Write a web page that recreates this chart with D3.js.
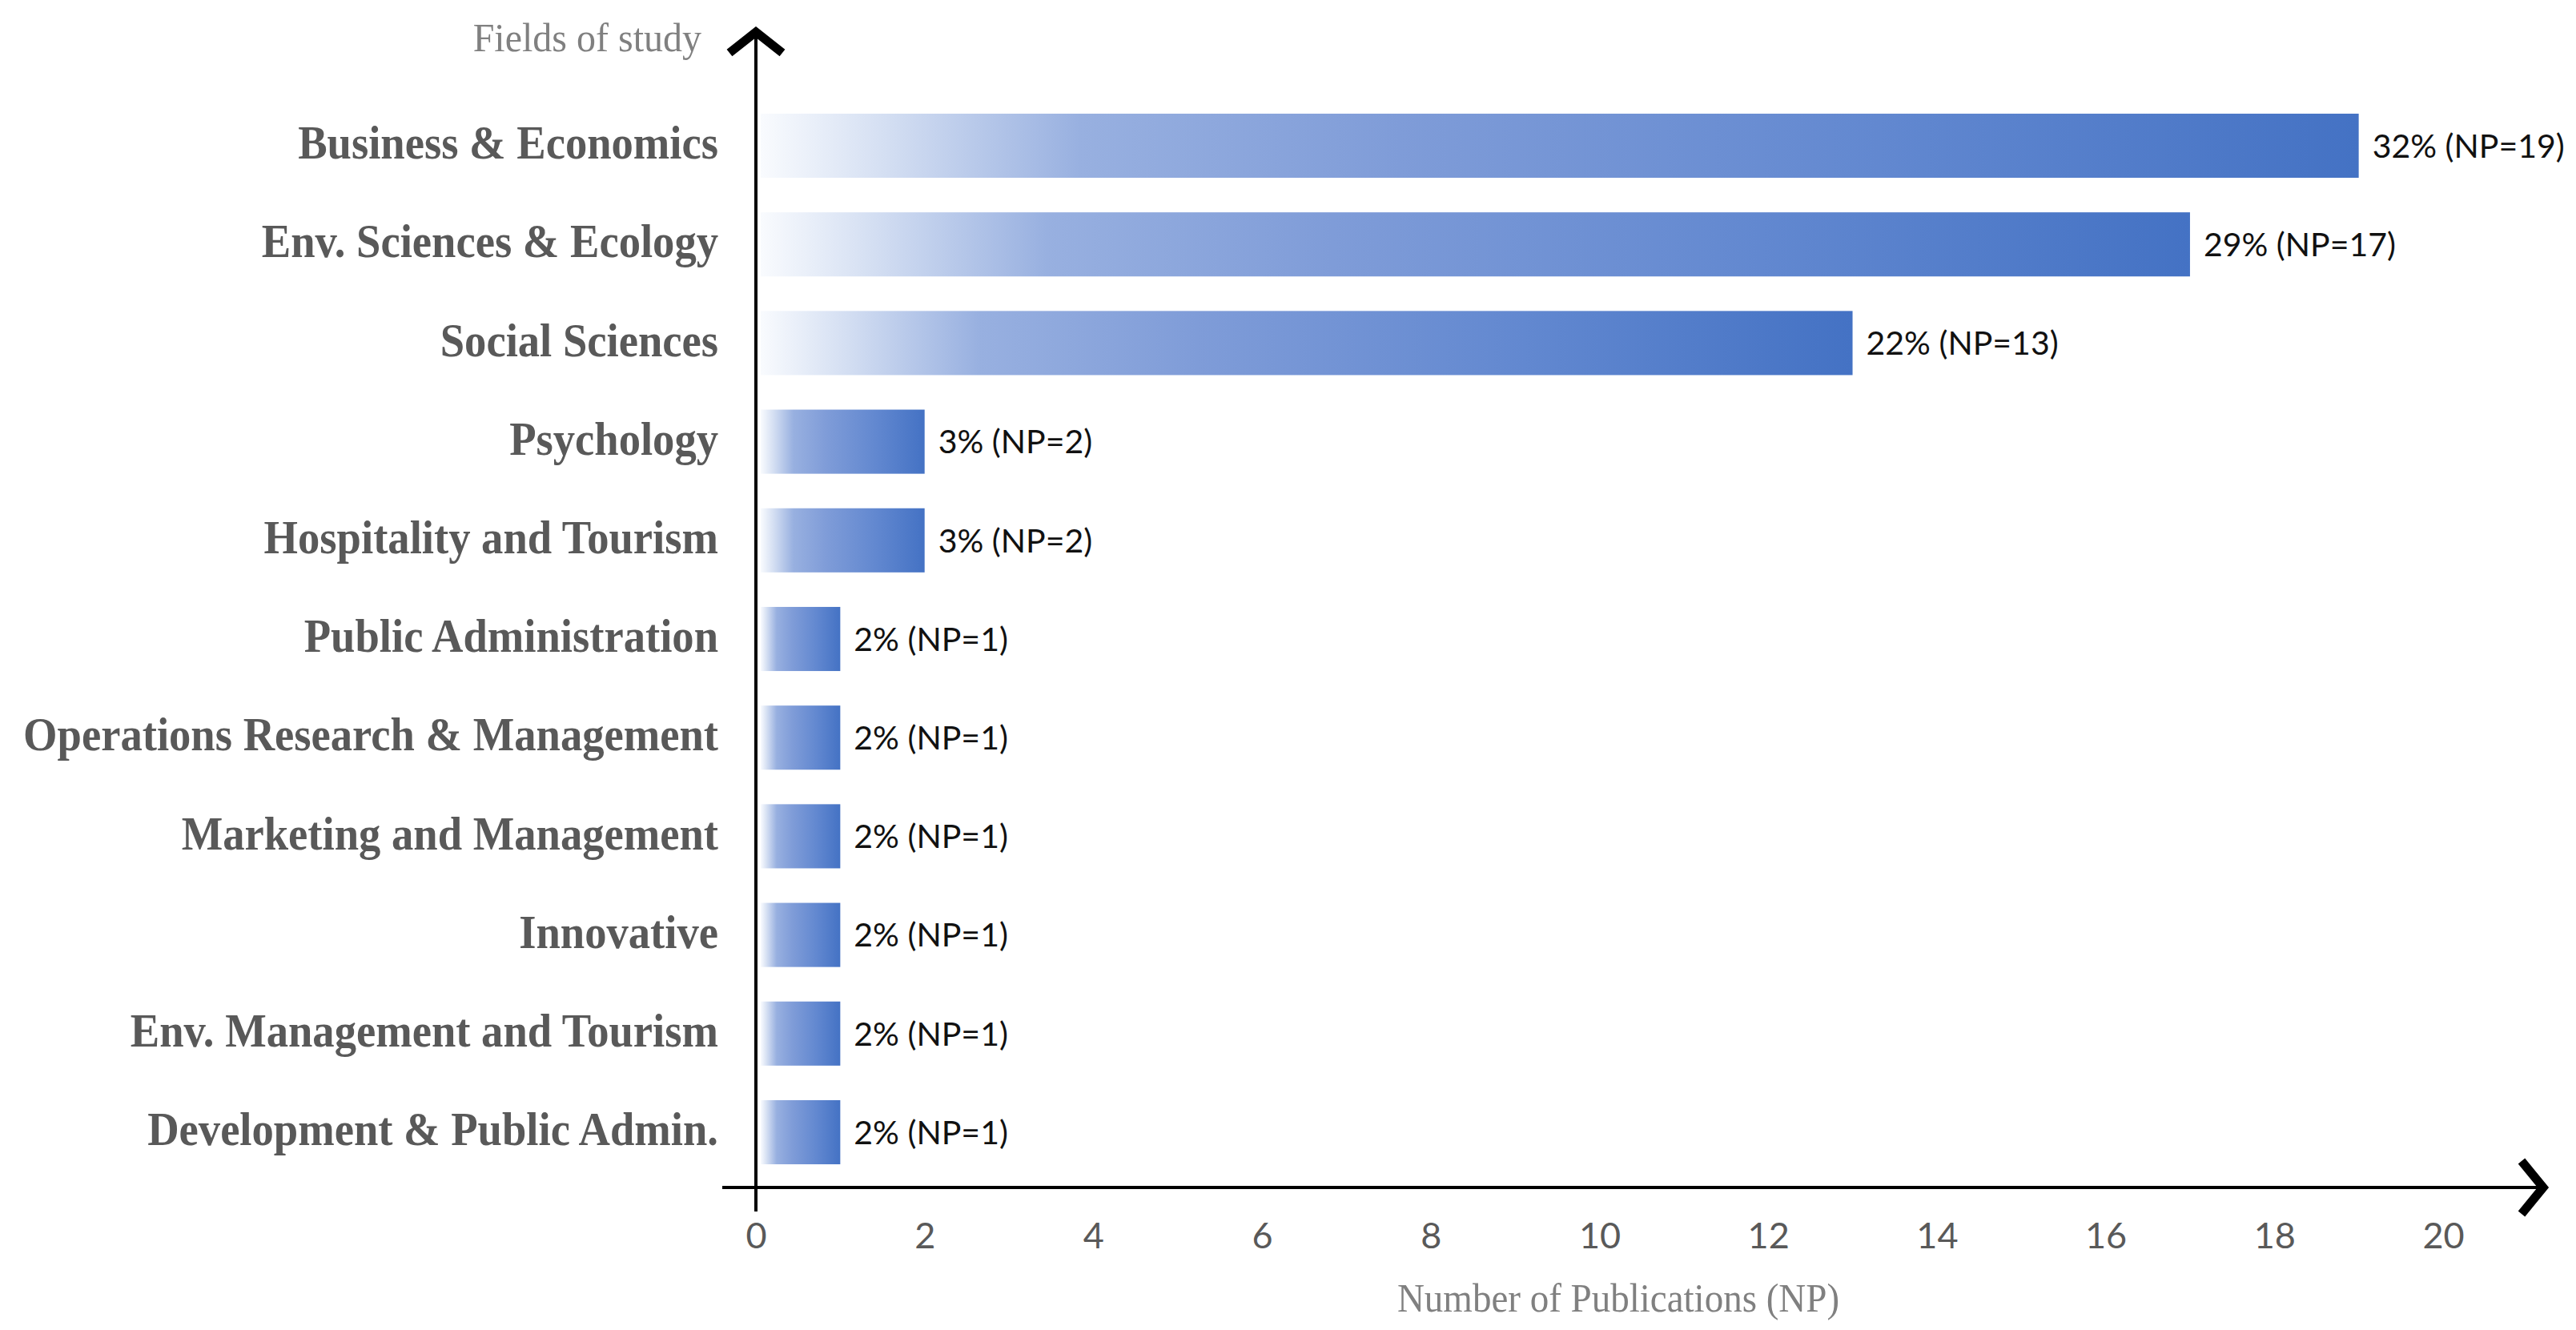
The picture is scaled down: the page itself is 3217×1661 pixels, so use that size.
<!DOCTYPE html>
<html>
<head>
<meta charset="utf-8">
<script src="https://cdn.jsdelivr.net/npm/d3@7"></script>
<style>
  body { margin: 0; background: #ffffff; }
  svg { display: block; }
</style>
</head>
<body>
<svg id="chart" width="3217" height="1661"></svg>
<script>
// ---- data ----
const categories = [
  "Business & Economics",
  "Env. Sciences & Ecology",
  "Social Sciences",
  "Psychology",
  "Hospitality and Tourism",
  "Public Administration",
  "Operations Research & Management",
  "Marketing and Management",
  "Innovative",
  "Env. Management and Tourism",
  "Development & Public Admin."
];
const counts = [19, 17, 13, 2, 2, 1, 1, 1, 1, 1, 1];
const percents = [32, 29, 22, 3, 3, 2, 2, 2, 2, 2, 2];
const xTickValues = [0, 2, 4, 6, 8, 10, 12, 14, 16, 18, 20];
const yAxisTitle = "Fields of study";
const xAxisTitle = "Number of Publications (NP)";

// ---- layout ----
const svg = d3.select("#chart");
const x0 = 944, x20 = 3051;
const axisY = 1483;
const x = d3.scaleLinear().domain([0, 20]).range([x0, x20]);
const y = d3.scaleBand().domain(categories).range([120.4, 1475.6])
  .paddingInner(0.35).paddingOuter(0.175);

const serif = "'Liberation Serif', 'Times New Roman', serif";
const sans = "Lato, Calibri, 'Open Sans', sans-serif";

// gradient
const defs = svg.append("defs");
const grad = defs.append("linearGradient").attr("id", "barGrad")
  .attr("x1", "0%").attr("x2", "100%").attr("y1", "0%").attr("y2", "0%");
[[0, "#f9fbfe"], [0.08, "#d3def2"], [0.2, "#98b0e0"], [0.4, "#7f9cd8"], [0.7, "#6288d0"], [1, "#4472c4"]]
  .forEach(([o, c]) => grad.append("stop").attr("offset", o).attr("stop-color", c));

function compress(sel, f) {
  sel.each(function () {
    const L = this.getComputedTextLength();
    d3.select(this).attr("textLength", L * f).attr("lengthAdjust", "spacingAndGlyphs");
  });
}

// bars
const rows = categories.map((c, i) => ({ cat: c, n: counts[i], p: percents[i] }));
const barOffset = 6;
svg.append("g").selectAll("rect").data(rows).join("rect")
  .attr("x", x(0) + barOffset)
  .attr("y", d => y(d.cat))
  .attr("width", d => x(d.n) - x(0) - barOffset)
  .attr("height", y.bandwidth())
  .attr("fill", "url(#barGrad)");

// value labels
svg.append("g").selectAll("text").data(rows).join("text")
  .attr("x", d => x(d.n) + 17)
  .attr("y", d => y(d.cat) + y.bandwidth() / 2)
  .attr("dy", "0.36em")
  .attr("font-family", sans)
  .attr("font-size", 41)
  .attr("fill", "#111111")
  .text(d => `${d.p}% (NP=${d.n})`);

// category axis (labels only)
const yAxisG = svg.append("g")
  .attr("transform", `translate(${x0},0)`)
  .call(d3.axisLeft(y).tickSize(0).tickPadding(47));
yAxisG.select(".domain").remove();
yAxisG.selectAll("text")
  .attr("font-family", serif)
  .attr("font-weight", "bold")
  .attr("font-size", 60)
  .attr("fill", "#595959")
  .attr("dy", "0.27em");
compress(yAxisG.selectAll("text"), 0.91);

// x axis tick labels
const xAxisG = svg.append("g")
  .attr("transform", `translate(0,${axisY})`)
  .call(d3.axisBottom(x).tickValues(xTickValues).tickSize(0).tickPadding(44).tickFormat(d3.format("d")));
xAxisG.select(".domain").remove();
xAxisG.selectAll("text")
  .attr("font-family", sans)
  .attr("font-size", 45)
  .attr("fill", "#595959")
  .attr("dy", "0.71em");

// axis lines
const axes = svg.append("g").attr("stroke", "#000").attr("fill", "none");
axes.append("line").attr("x1", x0).attr("x2", x0).attr("y1", 42).attr("y2", axisY + 30)
  .attr("stroke-width", 4);
axes.append("line").attr("x1", 902).attr("x2", 3172).attr("y1", axisY).attr("y2", axisY)
  .attr("stroke-width", 4);
// arrow heads
axes.append("path")
  .attr("d", `M${x0 - 33},${66} L${x0},${40} L${x0 + 33},${66}`)
  .attr("stroke-width", 11).attr("stroke-linejoin", "miter");
axes.append("path")
  .attr("d", `M${3149},${axisY - 33} L${3176},${axisY} L${3149},${axisY + 33}`)
  .attr("stroke-width", 11).attr("stroke-linejoin", "miter");

// titles
const yt = svg.append("text")
  .attr("x", 876).attr("y", 64)
  .attr("text-anchor", "end")
  .attr("font-family", serif)
  .attr("font-size", 50)
  .attr("fill", "#808080")
  .text(yAxisTitle);
compress(yt, 0.96);

const xt = svg.append("text")
  .attr("x", 2021).attr("y", 1638)
  .attr("text-anchor", "middle")
  .attr("font-family", serif)
  .attr("font-size", 50)
  .attr("fill", "#808080")
  .text(xAxisTitle);
compress(xt, 0.94);
</script>
</body>
</html>
